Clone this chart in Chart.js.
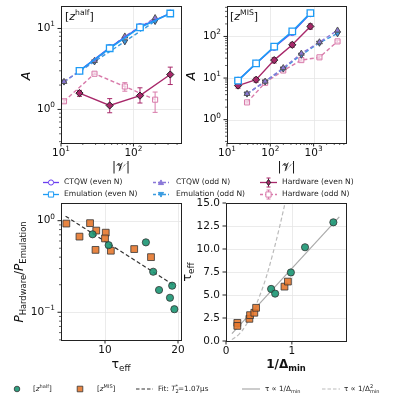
<!DOCTYPE html>
<html>
<head>
<meta charset="utf-8">
<script src="https://cdn.jsdelivr.net/npm/chart.js@4.4.1/dist/chart.umd.min.js"></script>
<style>
  html, body { margin: 0; padding: 0; background: #fff; }
  #wrap { position: relative; width: 397px; height: 404px; }
  #wrap canvas { position: absolute; left: 0; top: 0; }
</style>
</head>
<body>
<div id="wrap">
  <canvas id="tl" width="397" height="404"></canvas>
  <canvas id="tr" width="397" height="404"></canvas>
  <canvas id="bl" width="397" height="404"></canvas>
  <canvas id="br" width="397" height="404"></canvas>
</div>
<script>
// ---- data ----
// top left, [z^half]
const nEvenHalf = [18, 47, 123, 322];
const nOddHalf = [11, 29, 76, 199];
const ctqwEvenHalf = [3.0, 5.8, 10.5, 15.4];
const emuEvenHalf = [3.0, 5.7, 10.3, 15.3];
const ctqwOddHalf = [2.2, 4.0, 8.0, 13.5];
const emuOddHalf = [2.2, 3.9, 6.9, 12.3];
const hwEvenHalf = [1.59, 1.12, 1.48, 2.7];
const hwEvenHalfLo = [1.45, 0.91, 1.2, 2.03];
const hwEvenHalfHi = [1.72, 1.36, 1.85, 3.33];
const hwOddHalf = [1.26, 2.76, 1.92, 1.32];
const hwOddHalfLo = [1.2, 2.7, 1.68, 0.92];
const hwOddHalfHi = [1.32, 2.82, 2.14, 1.64];

// top right, [z^MIS]
const nEvenMis = [18, 47, 123, 322, 843];
const nOddMis = [29, 76, 199, 521, 1364, 3571];
const ctqwEvenMis = [8.8, 22.5, 55, 125, 355];
const emuEvenMis = [8.7, 22.6, 56.8, 132, 363];
const ctqwOddMis = [4.2, 8.3, 17.5, 39, 73, 140];
const emuOddMis = [4.2, 8.2, 16.8, 36, 70, 118];
const hwEvenMis = [6.6, 9.1, 27, 63, 174];
const hwEvenMisLo = [5.7, 7.9, 23, 55, 150];
const hwEvenMisHi = [7.6, 10.4, 31, 72, 200];
const hwOddMis = [2.6, 7.7, 15.2, 27, 31.5, 76];
const hwOddMisLo = [2.5, 7.3, 14.5, 25.5, 29.5, 71];
const hwOddMisHi = [2.7, 8.1, 15.9, 28.5, 33.5, 81];

// bottom left, success ratio vs tau_eff
const halfTau = [8.3, 10.5, 15.6, 16.6, 17.4, 19.2, 18.9, 19.5];
const halfRatio = [0.71, 0.54, 0.58, 0.277, 0.175, 0.195, 0.144, 0.108];
const misTau = [4.7, 6.5, 7.95, 8.8, 8.7, 10.1, 10.0, 10.8, 14.0, 16.3];
const misRatio = [0.93, 0.67, 0.94, 0.78, 0.48, 0.74, 0.64, 0.47, 0.49, 0.40];
const fitTau = [4.6, 19.5];
const fitRatio = [1.12, 0.196];

// bottom right, tau_eff vs 1/gap
const halfInvGap = [0.685, 0.746, 0.985, 1.20, 1.63];
const halfTauR = [5.66, 5.15, 7.45, 10.19, 12.9];
const misInvGap = [0.172, 0.172, 0.355, 0.365, 0.43, 0.457, 0.888, 0.94];
const misTauR = [1.97, 1.64, 2.41, 2.81, 3.07, 3.61, 5.91, 6.46];
const linGap = [0.09, 1.72];
const linTau = [0.8, 13.5];
const quadGap = [0.09, 0.2, 0.3, 0.4, 0.5, 0.6, 0.7, 0.8, 0.9];
const quadTau = [0.15, 0.75, 1.7, 3.0, 4.7, 6.7, 9.2, 12.0, 15.1];

// tick labels
const decadeTicks = [0.1, 1, 10, 100, 1000];
const decadeLabels = [['10', '\u22121'], ['10', '0'], ['10', '1'], ['10', '2'], ['10', '3']];
const tauTicks = [10, 20];
const gapTicks = [0, 1];
const tauRTicks = [0, 2.5, 5, 7.5, 10, 12.5, 15];

const C_CTQW_EVEN = '#6b3ff0';
const C_EMU_EVEN = '#1e9cf5';
const C_CTQW_ODD = '#8a78d8';
const C_EMU_ODD = '#3a9be0';
const C_HW_EVEN = '#a8286a';
const C_HW_ODD = '#d87aaa';
const C_HALF = 'rgba(27,150,115,0.9)';
const C_MIS = 'rgba(230,120,45,0.9)';
const FONT = '"DejaVu Sans"';

function pts(xs, ys) {
    return xs.map((x, i) => ({ x: x, y: ys[i] }));
}

function minorLog(lo, hi) {
    const out = [];
    for (let d = Math.pow(10, Math.floor(Math.log10(lo))); d < hi; d *= 10) {
        for (let k = 2; k <= 9; k++) {
            const v = k * d;
            if (v >= lo && v <= hi) out.push(v);
        }
    }
    return out;
}

// rich text: parts {t, k:'sup'|'sub', i:italic, over:draw at previous x}
function rich(ctx, parts, x, y, size, align, color, bold) {
    const fonts = parts.map(p => {
        const small = p.k === 'sup' || p.k === 'sub';
        const sz = small ? size * 0.7 : size;
        return (p.i ? 'italic ' : '') + (bold ? 'bold ' : '') + sz + 'px ' + FONT;
    });
    let w = 0, lastW = 0;
    parts.forEach((p, i) => {
        ctx.font = fonts[i];
        const pw = ctx.measureText(p.t).width;
        if (p.over) { w += Math.max(0, pw - lastW); } else { w += pw; }
        lastW = pw;
    });
    let cx = align === 'right' ? x - w : align === 'center' ? x - w / 2 : x;
    ctx.fillStyle = color || '#111';
    ctx.textBaseline = 'middle';
    ctx.textAlign = 'left';
    lastW = 0;
    parts.forEach((p, i) => {
        ctx.font = fonts[i];
        const pw = ctx.measureText(p.t).width;
        if (p.over) cx -= lastW;
        const dy = p.k === 'sup' ? -size * 0.38 : p.k === 'sub' ? size * 0.32 : 0;
        ctx.fillText(p.t, cx, y + dy);
        cx += pw;
        lastW = pw;
    });
}

function richRot(ctx, parts, x, y, size, bold) {
    ctx.save();
    ctx.translate(x, y);
    ctx.rotate(-Math.PI / 2);
    rich(ctx, parts, 0, 0, size, 'center', '#111', bold);
    ctx.restore();
}

function drawMarker(ctx, shape, x, y, r, fill, stroke, lw) {
    ctx.beginPath();
    if (shape === 'circle') ctx.arc(x, y, r, 0, Math.PI * 2);
    else if (shape === 'square') ctx.rect(x - r, y - r, 2 * r, 2 * r);
    else if (shape === 'tri') { ctx.moveTo(x, y - r); ctx.lineTo(x + r, y + r * 0.8); ctx.lineTo(x - r, y + r * 0.8); ctx.closePath(); }
    else if (shape === 'triDown') { ctx.moveTo(x, y + r); ctx.lineTo(x + r, y - r * 0.8); ctx.lineTo(x - r, y - r * 0.8); ctx.closePath(); }
    else if (shape === 'diamond') { ctx.moveTo(x, y - r * 1.2); ctx.lineTo(x + r * 0.8, y); ctx.lineTo(x, y + r * 1.2); ctx.lineTo(x - r * 0.8, y); ctx.closePath(); }
    ctx.fillStyle = fill;
    ctx.fill();
    ctx.strokeStyle = stroke;
    ctx.lineWidth = lw;
    ctx.stroke();
}

function legendLine(ctx, x0, x1, y, color, dash, lw) {
    ctx.save();
    ctx.beginPath();
    ctx.setLineDash(dash);
    ctx.moveTo(x0, y);
    ctx.lineTo(x1, y);
    ctx.strokeStyle = color;
    ctx.lineWidth = lw;
    ctx.stroke();
    ctx.restore();
}

const supLabel = (v) => {
    const i = decadeTicks.indexOf(v);
    return [{ t: decadeLabels[i][0] }, { t: decadeLabels[i][1], k: 'sup' }];
};
const plainLabel = (v) => [{ t: String(v) }];
const fixedLabel = (v) => [{ t: v.toFixed(1) }];

// axis decorations for each panel
const deco = {
    tl: {
        xMajor: [10, 100], xLabel: supLabel, xMinor: minorLog(10, 450),
        yMajor: [1, 10], yLabel: supLabel, yMinor: minorLog(0.38, 19),
        xGrid: [10, 100], yGrid: [1, 10],
        titles(ctx, a) {
            rich(ctx, [{ t: '|' }, { t: '\uD835\uDCB1' }, { t: '|' }], (a.left + a.right) / 2, 168, 12, 'center');
            richRot(ctx, [{ t: 'A', i: true }], 27, 76, 12.5);
            rich(ctx, [{ t: '[' }, { t: 'z', i: true }, { t: 'half', k: 'sup' }, { t: ']' }], 65, 17, 11, 'left');
        }
    },
    tr: {
        xMajor: [10, 100, 1000], xLabel: supLabel, xMinor: minorLog(10, 5600),
        yMajor: [1, 10, 100], yLabel: supLabel, yMinor: minorLog(0.28, 540),
        xGrid: [10, 100, 1000], yGrid: [1, 10, 100],
        titles(ctx, a) {
            rich(ctx, [{ t: '|' }, { t: '\uD835\uDCB1' }, { t: '|' }], (a.left + a.right) / 2, 168, 12, 'center');
            richRot(ctx, [{ t: 'A', i: true }], 192, 76, 12.5);
            rich(ctx, [{ t: '[' }, { t: 'z', i: true }, { t: 'MIS', k: 'sup' }, { t: ']' }], 230, 17, 11, 'left');
        }
    },
    bl: {
        xMajor: tauTicks, xLabel: plainLabel, xMinor: [],
        yMajor: [0.1, 1], yLabel: supLabel, yMinor: minorLog(0.05, 1.56),
        xGrid: tauTicks, yGrid: [0.1, 1],
        titles(ctx, a) {
            rich(ctx, [{ t: '\u03C4' }, { t: 'eff', k: 'sub' }], (a.left + a.right) / 2, 365, 12.5, 'center');
            richRot(ctx, [{ t: 'P', i: true }, { t: 'Hardware', k: 'sub' }, { t: '/' }, { t: 'P', i: true }, { t: 'Emulation', k: 'sub' }], 20, 272, 12);
        }
    },
    br: {
        xMajor: gapTicks, xLabel: plainLabel, xMinor: [],
        yMajor: tauRTicks, yLabel: fixedLabel, yMinor: [],
        xGrid: gapTicks, yGrid: tauRTicks,
        titles(ctx, a) {
            rich(ctx, [{ t: '1/\u0394' }, { t: 'min', k: 'sub' }], (a.left + a.right) / 2, 365, 12, 'center', '#111', true);
            richRot(ctx, [{ t: '\u03C4' }, { t: 'eff', k: 'sub' }], 188, 272, 12.5);
        }
    }
};

function drawTopLegend(ctx) {
    const rows = [182.5, 194.5];
    const cols = [[43, 59, 64], [153, 169, 176], [260, 277, 282]];
    const items = [
        [0, 0, 'CTQW (even N)', C_CTQW_EVEN, [], 'circle', '#fff', false],
        [0, 1, 'Emulation (even N)', C_EMU_EVEN, [], 'square', '#fff', false],
        [1, 0, 'CTQW (odd N)', C_CTQW_ODD, [3, 2], 'tri', C_CTQW_ODD, false],
        [1, 1, 'Emulation (odd N)', C_EMU_ODD, [3, 2], 'triDown', C_EMU_ODD, false],
        [2, 0, 'Hardware (even N)', C_HW_EVEN, [], 'diamond', C_HW_EVEN, true],
        [2, 1, 'Hardware (odd N)', C_HW_ODD, [3, 2], 'square', '#fff', true]
    ];
    items.forEach(it => {
        const c = cols[it[0]], y = rows[it[1]];
        const mid = (c[0] + c[1]) / 2;
        legendLine(ctx, c[0], c[1], y, it[3], it[4], 1.3);
        if (it[7]) {
            ctx.beginPath();
            ctx.moveTo(mid, y - 4.5); ctx.lineTo(mid, y + 4.5);
            ctx.moveTo(mid - 2, y - 4.5); ctx.lineTo(mid + 2, y - 4.5);
            ctx.moveTo(mid - 2, y + 4.5); ctx.lineTo(mid + 2, y + 4.5);
            ctx.strokeStyle = it[3]; ctx.lineWidth = 1; ctx.stroke();
        }
        const stroke = it[5] === 'diamond' ? '#222' : it[3];
        drawMarker(ctx, it[5], mid, y, 2.6, it[6], stroke, 1);
        rich(ctx, [{ t: it[2] }], c[2], y, 7.6, 'left', '#222');
    });
}

function drawBottomLegend(ctx) {
    const y = 389;
    drawMarker(ctx, 'circle', 17, y, 2.8, C_HALF, '#333', 0.8);
    rich(ctx, [{ t: '[' }, { t: 'z', i: true }, { t: 'half', k: 'sup' }, { t: ']' }], 33, y, 7.2, 'left', '#222');
    drawMarker(ctx, 'square', 80, y, 2.8, C_MIS, '#333', 0.8);
    rich(ctx, [{ t: '[' }, { t: 'z', i: true }, { t: 'MIS', k: 'sup' }, { t: ']' }], 97, y, 7.2, 'left', '#222');
    legendLine(ctx, 136, 153, y, '#333', [3.5, 2], 1.2);
    rich(ctx, [{ t: 'Fit: ' }, { t: 'T', i: true }, { t: '2', k: 'sub' }, { t: '*', k: 'sup', over: true }, { t: '=1.07\u00B5s' }], 158, y, 7.2, 'left', '#222');
    legendLine(ctx, 242, 260, y, '#aaa', [], 1.2);
    rich(ctx, [{ t: '\u03C4 \u221D 1/\u0394' }, { t: 'min', k: 'sub' }], 265, y, 7.2, 'left', '#222');
    legendLine(ctx, 322, 340, y, '#bbb', [3.5, 2], 1.2);
    rich(ctx, [{ t: '\u03C4 \u221D 1/\u0394' }, { t: '2', k: 'sup' }, { t: 'min', k: 'sub', over: true }], 344, y, 7.2, 'left', '#222');
}

const decoPlugin = {
    id: 'deco',
    beforeDatasetsDraw(chart) {
        const d = deco[chart.canvas.id];
        const ctx = chart.ctx, a = chart.chartArea;
        const xs = chart.scales.x, ys = chart.scales.y;
        ctx.save();
        ctx.strokeStyle = '#e6e6e6';
        ctx.lineWidth = 0.8;
        ctx.beginPath();
        d.xGrid.forEach(v => { const px = Math.round(xs.getPixelForValue(v)) + 0.5; ctx.moveTo(px, a.top); ctx.lineTo(px, a.bottom); });
        d.yGrid.forEach(v => { const py = Math.round(ys.getPixelForValue(v)) + 0.5; ctx.moveTo(a.left, py); ctx.lineTo(a.right, py); });
        ctx.stroke();
        // error bars
        ctx.beginPath();
        ctx.rect(a.left, a.top, a.right - a.left, a.bottom - a.top);
        ctx.clip();
        chart.data.datasets.forEach(ds => {
            if (!ds.errLo) return;
            ctx.strokeStyle = ds.borderColor;
            ctx.lineWidth = 1;
            ctx.setLineDash([]);
            ds.data.forEach((p, i) => {
                const px = xs.getPixelForValue(p.x);
                const y0 = ys.getPixelForValue(ds.errLo[i]);
                const y1 = ys.getPixelForValue(ds.errHi[i]);
                ctx.beginPath();
                ctx.moveTo(px, y0); ctx.lineTo(px, y1);
                ctx.moveTo(px - 2.5, y0); ctx.lineTo(px + 2.5, y0);
                ctx.moveTo(px - 2.5, y1); ctx.lineTo(px + 2.5, y1);
                ctx.stroke();
            });
        });
        ctx.restore();
    },
    afterDatasetsDraw(chart) {
        const id = chart.canvas.id;
        const d = deco[id];
        const ctx = chart.ctx, a = chart.chartArea;
        const xs = chart.scales.x, ys = chart.scales.y;
        ctx.save();
        ctx.strokeStyle = '#222';
        ctx.lineWidth = 1;
        ctx.strokeRect(Math.round(a.left) + 0.5, Math.round(a.top) + 0.5, Math.round(a.right - a.left), Math.round(a.bottom - a.top));
        ctx.beginPath();
        d.xMajor.forEach(v => { const px = xs.getPixelForValue(v); ctx.moveTo(px, a.bottom); ctx.lineTo(px, a.bottom + 3.5); });
        d.yMajor.forEach(v => { const py = ys.getPixelForValue(v); ctx.moveTo(a.left, py); ctx.lineTo(a.left - 3.5, py); });
        ctx.stroke();
        ctx.beginPath();
        ctx.lineWidth = 0.7;
        d.xMinor.forEach(v => { const px = xs.getPixelForValue(v); ctx.moveTo(px, a.bottom); ctx.lineTo(px, a.bottom + 2); });
        d.yMinor.forEach(v => { const py = ys.getPixelForValue(v); ctx.moveTo(a.left, py); ctx.lineTo(a.left - 2, py); });
        ctx.stroke();
        d.xMajor.forEach(v => rich(ctx, d.xLabel(v), xs.getPixelForValue(v), a.bottom + 10, 10.5, 'center'));
        d.yMajor.forEach(v => rich(ctx, d.yLabel(v), a.left - 6, ys.getPixelForValue(v), 10.5, 'right'));
        d.titles(ctx, a);
        if (id === 'tl') drawTopLegend(ctx);
        if (id === 'bl') drawBottomLegend(ctx);
        ctx.restore();
    }
};

function line(xs, ys, color, opt) {
    return Object.assign({
        data: pts(xs, ys), showLine: true, borderColor: color, borderWidth: 1.4,
        pointBorderColor: color, pointBackgroundColor: color, pointBorderWidth: 1,
        pointRadius: 3.2, pointStyle: 'circle'
    }, opt);
}

function makeChart(id, pad, xType, yType, xr, yr, datasets) {
    return new Chart(document.getElementById(id), {
        type: 'scatter',
        data: { datasets: datasets },
        options: {
            responsive: false,
            animation: false,
            devicePixelRatio: 1,
            events: [],
            layout: { padding: pad },
            plugins: { legend: { display: false }, tooltip: { enabled: false } },
            scales: {
                x: { type: xType, min: xr[0], max: xr[1], display: false },
                y: { type: yType, min: yr[0], max: yr[1], display: false }
            }
        },
        plugins: [decoPlugin]
    });
}

function topSets(nE, nO, cE, eE, cO, eO, hE, hELo, hEHi, hO, hOLo, hOHi) {
    return [
        line(nE, eE, C_EMU_EVEN, { order: 1, pointStyle: 'rect', pointRadius: 4.6, pointBackgroundColor: '#fff', borderWidth: 1.6, pointBorderWidth: 1.3 }),
        line(nE, cE, C_CTQW_EVEN, { order: 2, pointBackgroundColor: '#fff' }),
        line(nO, cO, C_CTQW_ODD, { order: 3, pointStyle: 'triangle', borderDash: [4, 2.5], pointBorderColor: '#555', pointRadius: 3.4 }),
        line(nO, eO, C_EMU_ODD, { order: 4, pointStyle: 'triangle', rotation: 180, borderDash: [4, 2.5], pointBorderColor: '#445', pointRadius: 3.4 }),
        line(nE, hE, C_HW_EVEN, { order: 5, pointStyle: 'rectRot', pointBorderColor: '#222', pointRadius: 3.6, errLo: hELo, errHi: hEHi }),
        line(nO, hO, C_HW_ODD, { order: 6, pointStyle: 'rect', pointBackgroundColor: 'rgba(255,255,255,0.6)', pointRadius: 3.6, borderDash: [4, 2.5], errLo: hOLo, errHi: hOHi })
    ];
}

makeChart('tl', { left: 61, top: 5, right: 216, bottom: 261 }, 'logarithmic', 'logarithmic', [10, 453], [0.385, 19],
    topSets(nEvenHalf, nOddHalf, ctqwEvenHalf, emuEvenHalf, ctqwOddHalf, emuOddHalf,
        hwEvenHalf, hwEvenHalfLo, hwEvenHalfHi, hwOddHalf, hwOddHalfLo, hwOddHalfHi));

makeChart('tr', { left: 227, top: 5, right: 51, bottom: 261 }, 'logarithmic', 'logarithmic', [10, 5600], [0.275, 542],
    topSets(nEvenMis, nOddMis, ctqwEvenMis, emuEvenMis, ctqwOddMis, emuOddMis,
        hwEvenMis, hwEvenMisLo, hwEvenMisHi, hwOddMis, hwOddMisLo, hwOddMisHi));

makeChart('bl', { left: 61, top: 203, right: 216, bottom: 64 }, 'linear', 'logarithmic', [3.97, 20.41], [0.0498, 1.56], [
    { data: pts(halfTau, halfRatio), pointStyle: 'circle', pointRadius: 3.6, backgroundColor: C_HALF, borderColor: '#333', borderWidth: 0.8, order: 1 },
    { data: pts(misTau, misRatio), pointStyle: 'rect', pointRadius: 4.8, backgroundColor: C_MIS, borderColor: '#333', borderWidth: 0.8, order: 2 },
    { data: pts(fitTau, fitRatio), showLine: true, pointRadius: 0, borderColor: '#333', borderWidth: 1.2, borderDash: [4, 2.5], order: 3 }
]);

makeChart('br', { left: 226, top: 203, right: 51, bottom: 63 }, 'linear', 'linear', [0, 1.822], [0, 15], [
    { data: pts(halfInvGap, halfTauR), pointStyle: 'circle', pointRadius: 3.6, backgroundColor: C_HALF, borderColor: '#333', borderWidth: 0.8, order: 1 },
    { data: pts(misInvGap, misTauR), pointStyle: 'rect', pointRadius: 4.8, backgroundColor: C_MIS, borderColor: '#333', borderWidth: 0.8, order: 2 },
    { data: pts(linGap, linTau), showLine: true, pointRadius: 0, borderColor: '#aaa', borderWidth: 1.2, order: 3 },
    { data: pts(quadGap, quadTau), showLine: true, pointRadius: 0, borderColor: '#bbb', borderWidth: 1.2, borderDash: [4, 2.5], tension: 0.4, order: 4 }
]);
</script>
</body>
</html>
